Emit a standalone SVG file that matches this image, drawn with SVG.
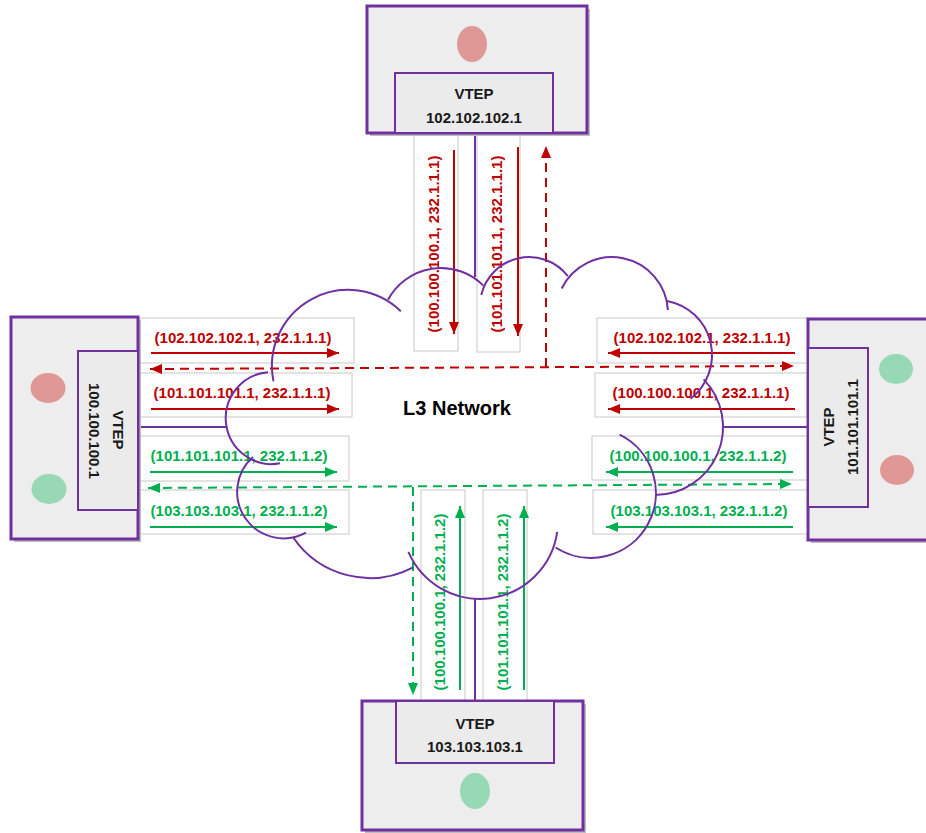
<svg xmlns="http://www.w3.org/2000/svg" width="926" height="833" viewBox="0 0 926 833">
<style>
.shadow{fill:#bdbdbd}
.outer{fill:#ededed;stroke:#7030a0;stroke-width:3}
.inner{fill:#ebebeb;stroke:#7030a0;stroke-width:2}
.link{stroke:#7030a0;stroke-width:2;fill:none}
.pink{fill:#e09896}
.mint{fill:#97d8b5}
.vt{font-family:"Liberation Sans",Arial,sans-serif;font-size:15px;font-weight:bold;fill:#1a1a1a;text-anchor:middle;dominant-baseline:central}
.lbl{font-family:"Liberation Sans",Arial,sans-serif;font-size:15px;font-weight:bold;text-anchor:middle;dominant-baseline:central}
.r{fill:#c00000}
.g{fill:#00b050}
.box{fill:#ffffff;stroke:#c8c8c8;stroke-width:1}
.ar{stroke:#c00000;stroke-width:2;fill:none;marker-end:url(#mR)}
.ag{stroke:#00b050;stroke-width:2;fill:none;marker-end:url(#mG)}
.dr{stroke:#c00000;stroke-width:2;fill:none;stroke-dasharray:9 6}
.dg{stroke:#00b050;stroke-width:2;fill:none;stroke-dasharray:9 6}
.cl{stroke:#7030a0;stroke-width:2;fill:none}
.title{font-family:"Liberation Sans",Arial,sans-serif;font-size:20px;font-weight:bold;fill:#000;text-anchor:middle;dominant-baseline:central}
</style>
<defs>
<marker id="mR" viewBox="0 0 12 10" refX="12" refY="5" markerWidth="12" markerHeight="10" markerUnits="userSpaceOnUse" orient="auto-start-reverse"><path d="M0,0 L12,5 L0,10 z" fill="#c00000"/></marker>
<marker id="mG" viewBox="0 0 12 10" refX="12" refY="5" markerWidth="12" markerHeight="10" markerUnits="userSpaceOnUse" orient="auto-start-reverse"><path d="M0,0 L12,5 L0,10 z" fill="#00b050"/></marker>
</defs>
<rect width="926" height="833" fill="#ffffff"/>

<g id="connectors">
  <!-- label boxes -->
  <rect class="box" x="140" y="318" width="214" height="45"/>
  <rect class="box" x="140" y="373" width="212" height="44"/>
  <rect class="box" x="140" y="436" width="209" height="45"/>
  <rect class="box" x="140" y="490" width="209" height="44"/>
  <rect class="box" x="597" y="318" width="211" height="45"/>
  <rect class="box" x="595" y="373" width="213" height="44"/>
  <rect class="box" x="592" y="436" width="216" height="44"/>
  <rect class="box" x="593" y="490" width="215" height="44"/>
  <rect class="box" x="414" y="134" width="44" height="217"/>
  <rect class="box" x="477" y="134" width="43" height="218"/>
  <rect class="box" x="421" y="490" width="44" height="211"/>
  <rect class="box" x="483" y="490" width="44" height="211"/>

  <!-- node links -->
  <line class="link" x1="475" y1="133" x2="475" y2="277"/>
  <line class="link" x1="475" y1="599" x2="475" y2="701"/>
  <line class="link" x1="138" y1="427" x2="227" y2="427"/>
  <line class="link" x1="723" y1="427" x2="808" y2="427"/>

  <!-- left labels -->
  <text class="lbl r" x="243" y="337">(102.102.102.1, 232.1.1.1)</text>
  <line class="ar" x1="151" y1="353" x2="339" y2="353"/>
  <text class="lbl r" x="242" y="392">(101.101.101.1, 232.1.1.1)</text>
  <line class="ar" x1="151" y1="409" x2="339" y2="409"/>
  <text class="lbl g" x="239" y="455">(101.101.101.1, 232.1.1.2)</text>
  <line class="ag" x1="150" y1="472" x2="337" y2="472"/>
  <text class="lbl g" x="239" y="510">(103.103.103.1, 232.1.1.2)</text>
  <line class="ag" x1="150" y1="527" x2="337" y2="527"/>

  <!-- right labels -->
  <text class="lbl r" x="702" y="337">(102.102.102.1, 232.1.1.1)</text>
  <line class="ar" x1="795" y1="353" x2="608" y2="353"/>
  <text class="lbl r" x="701" y="392">(100.100.100.1, 232.1.1.1)</text>
  <line class="ar" x1="795" y1="409" x2="608" y2="409"/>
  <text class="lbl g" x="698" y="455">(100.100.100.1, 232.1.1.2)</text>
  <line class="ag" x1="793" y1="472" x2="606" y2="472"/>
  <text class="lbl g" x="699" y="510">(103.103.103.1, 232.1.1.2)</text>
  <line class="ag" x1="793" y1="527" x2="606" y2="527"/>

  <!-- top labels -->
  <text class="lbl r" transform="translate(433,244) rotate(-90)">(100.100.100.1, 232.1.1.1)</text>
  <line class="ar" x1="454" y1="150" x2="454" y2="334"/>
  <text class="lbl r" transform="translate(496,244) rotate(-90)">(101.101.101.1, 232.1.1.1)</text>
  <line class="ar" x1="518" y1="147" x2="518" y2="336"/>

  <!-- bottom labels -->
  <text class="lbl g" transform="translate(439,602) rotate(-90)">(100.100.100.1, 232.1.1.2)</text>
  <line class="ag" x1="460" y1="690" x2="460" y2="506"/>
  <text class="lbl g" transform="translate(502,602) rotate(-90)">(101.101.101.1, 232.1.1.2)</text>
  <line class="ag" x1="524" y1="690" x2="524" y2="506"/>

  <!-- dashed multicast paths -->
  <line class="dr" x1="150" y1="369" x2="794" y2="366" marker-start="url(#mR)" marker-end="url(#mR)"/>
  <line class="dr" x1="546" y1="367" x2="546" y2="146" marker-end="url(#mR)"/>
  <line class="dg" x1="148" y1="488" x2="792" y2="484" marker-start="url(#mG)" marker-end="url(#mG)"/>
  <line class="dg" x1="413" y1="487" x2="413" y2="695" marker-end="url(#mG)"/>
</g>

<g id="l3-network">
  <path class="cl" d="M273.5,381.2 A76,76 0 0 1 400.8,311.3"/>
  <path class="cl" d="M388,299.8 A60,60 0 0 1 483.4,285.6"/>
  <path class="cl" d="M481.3,295 A49,49 0 0 1 567.8,276.1"/>
  <path class="cl" d="M561.7,288.5 A56,56 0 0 1 667.9,310.1"/>
  <path class="cl" d="M667,300.9 A55,55 0 0 1 690.5,398.6"/>
  <path class="cl" d="M703.6,379.4 A68,68 0 0 1 655,495"/>
  <path class="cl" d="M619.6,434.6 A65,65 0 1 1 555.6,547.5"/>
  <path class="cl" d="M557.2,531.9 A78,78 0 0 1 408.4,551.9"/>
  <path class="cl" d="M413.2,567.3 A93,93 0 0 1 292.9,537"/>
  <path class="cl" d="M305.9,532.7 A46.5,46.5 0 0 1 253,456.9"/>
  <path class="cl" d="M280,463.3 A46,46 0 1 1 268,372.2"/>
  <text class="title" x="457" y="408">L3 Network</text>
</g>

<g id="vtep-102">
  <rect class="shadow" x="370" y="9" width="220" height="127"/>
  <rect class="outer" x="367" y="6" width="220" height="127"/>
  <ellipse class="pink" cx="472" cy="44" rx="15" ry="18"/>
  <rect class="inner" x="395" y="73" width="158" height="60"/>
  <text class="vt" x="474" y="93">VTEP</text>
  <text class="vt" x="474" y="117">102.102.102.1</text>
</g>

<g id="vtep-103">
  <rect class="shadow" x="365" y="704" width="221" height="129"/>
  <rect class="outer" x="362" y="701" width="221" height="129"/>
  <rect class="inner" x="396" y="701" width="158" height="62"/>
  <text class="vt" x="475" y="723">VTEP</text>
  <text class="vt" x="475" y="746">103.103.103.1</text>
  <ellipse class="mint" cx="475" cy="791" rx="15" ry="18"/>
</g>

<g id="vtep-100">
  <rect class="shadow" x="14" y="320" width="127" height="222"/>
  <rect class="outer" x="11" y="317" width="127" height="222"/>
  <ellipse class="pink" cx="48" cy="388" rx="17.5" ry="15"/>
  <ellipse class="mint" cx="49" cy="489" rx="17.5" ry="15"/>
  <rect class="inner" x="78" y="351" width="60" height="159"/>
  <text class="vt" transform="translate(118,430) rotate(90)">VTEP</text>
  <text class="vt" transform="translate(94,431) rotate(90)">100.100.100.1</text>
</g>

<g id="vtep-101">
  <rect class="shadow" x="811" y="322" width="130" height="221"/>
  <rect class="outer" x="808" y="319" width="130" height="221"/>
  <ellipse class="mint" cx="896" cy="369" rx="17" ry="15"/>
  <ellipse class="pink" cx="897" cy="470" rx="17" ry="15"/>
  <rect class="inner" x="808" y="348" width="60" height="159"/>
  <text class="vt" transform="translate(828,427) rotate(-90)">VTEP</text>
  <text class="vt" transform="translate(852,427) rotate(-90)">101.101.101.1</text>
</g>
</svg>
